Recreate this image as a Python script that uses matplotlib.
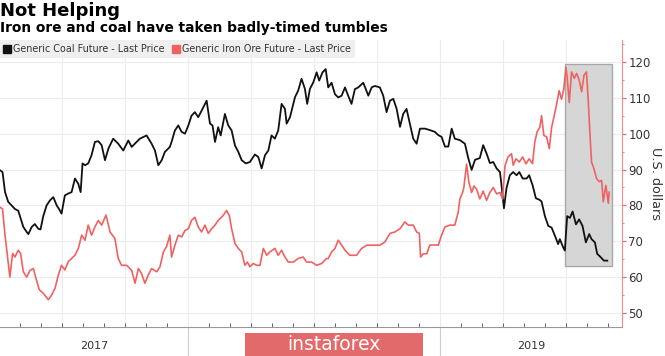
import numpy as np
import matplotlib
matplotlib.use("Agg")
import matplotlib.pyplot as plt
from matplotlib.lines import Line2D
from matplotlib.patches import Rectangle
from matplotlib.ticker import MultipleLocator, FixedLocator

# x values are months since 2017-01-01
coal_m = [3.05,3.17,3.29,3.44,3.60,3.76,3.92,4.00,4.16,4.32,4.40,4.56,4.71,4.87,4.98,5.11,5.27,5.43,5.59,5.75,
          5.90,5.98,6.14,6.30,6.46,6.62,6.78,6.89,6.98,7.10,7.25,7.41,7.57,7.73,7.89,8.05,8.21,8.44,8.68,8.92,
          9.16,9.32,9.56,9.71,10.03,10.27,10.43,10.59,10.75,10.90,11.14,
          11.22,11.38,11.54,11.70,11.86,12.02,12.17,12.33,12.49,12.65,12.89,13.05,13.17,13.29,13.44,13.56,13.76,
          13.92,14.08,14.24,14.40,14.56,14.76,14.95,15.19,15.35,15.51,15.67,15.83,15.98,16.14,16.30,16.46,16.62,
          16.70,16.86,17.10,17.25,17.41,17.57,17.68,17.81,17.97,18.13,18.25,18.41,18.56,18.68,
          18.84,19.00,19.16,19.32,19.48,19.63,19.79,19.95,20.11,20.35,20.59,20.75,20.90,21.14,21.30,21.46,21.62,
          21.78,21.94,22.10,22.25,22.41,22.57,22.73,22.89,23.05,23.29,23.52,23.76,23.92,24.08,24.24,24.40,24.56,
          24.71,24.95,25.19,25.35,25.51,25.67,25.90,26.06,26.22,26.38,
          26.54,26.70,26.86,26.94,27.05,27.17,27.33,27.49,27.65,27.78,27.94,28.13,28.25,28.41,28.57,28.73,28.84,
          29.00,29.16,29.32,29.48,29.63,29.71,29.87,29.95,30.06,30.19,30.32,30.48,30.63,30.79,30.95,31.11,31.22,
          31.38,31.49,31.65,31.81,31.97]
coal_v = [89.8,89.3,83.7,81,80,79,78.5,77,74,72.6,72,74,74.8,73.5,73.3,77,80,81.4,82.3,80,
          78.6,77.7,82.8,83.3,83.7,87.5,86,83.7,91.7,91.2,91.7,94,97.7,97.9,96.8,92.6,95.8,98.6,97.2,95.3,
          98.1,96.3,97.7,98.6,99.5,97.2,95.3,91.2,92.6,94.9,96.3,
          97.7,100.9,102.3,100.5,100,102.3,105,106,104.6,106.4,109.2,102.8,102.3,97.7,101.8,99.5,105.5,
          102.3,100.9,96.7,94.9,92.6,91.7,92.1,94.2,93.5,90.3,94,95.3,99.5,98.6,100.9,108.3,106.9,
          102.8,104.6,110.2,112,115.3,112.5,108.3,112.5,114.3,117.1,114.8,117.1,118,112.9,
          114.2,111,110.1,110.6,112.9,110.6,108.3,112.4,112.9,114.2,110.6,112.9,113.3,112.9,110.6,106,109.2,
          109.7,106.9,101.9,105.5,106.9,102.8,98.6,97.2,101.4,101.4,101,100.5,99.6,99.1,96.4,96.4,101.4,
          98.6,98.2,97.2,93.2,89.9,92.7,93.2,96.8,94.5,91.8,
          92.1,90.3,89.3,85.2,79.2,84.8,88.4,89.3,88.4,89.3,87.5,87.5,88.4,85.7,82,81.6,81.1,
          77,74.3,73.8,71.5,69.2,70.6,68.3,67.4,77,76.5,78.3,74.7,76.1,74.3,69.7,72,70.6,
          69.7,66.5,65.6,64.6,64.6]

iron_m = [3.05,3.17,3.29,3.40,3.52,3.65,3.76,3.92,4.03,4.16,4.32,4.48,4.64,4.76,4.92,5.11,5.35,5.51,5.67,5.83,
          5.98,6.14,6.30,6.46,6.62,6.78,6.94,7.10,7.25,7.41,7.57,7.73,7.89,8.10,8.29,8.52,8.68,8.84,9.08,9.32,
          9.48,9.64,9.79,9.95,10.11,10.27,10.51,10.67,10.83,10.98,11.14,
          11.22,11.38,11.54,11.70,11.86,12.02,12.17,12.33,12.49,12.65,12.81,12.97,13.13,13.29,13.44,13.68,13.84,
          13.97,14.08,14.24,14.40,14.56,14.71,14.83,14.95,15.11,15.27,15.43,15.59,15.75,15.90,16.14,16.30,16.46,
          16.62,16.78,17.02,17.25,17.49,17.65,17.89,18.13,18.37,18.60,
          18.68,18.84,19.00,19.16,19.32,19.48,19.71,20.03,20.27,20.51,20.83,21.14,21.38,21.62,21.86,22.10,22.33,
          22.49,22.73,22.89,23.02,23.08,23.21,23.37,23.52,23.76,23.92,24.08,24.24,24.48,24.71,24.87,24.95,25.08,
          25.14,25.27,25.38,25.51,25.62,25.75,25.90,26.06,26.22,26.38,
          26.54,26.70,26.86,26.98,27.10,27.24,27.41,27.49,27.62,27.78,27.94,28.10,28.25,28.41,28.52,28.63,28.76,
          28.84,28.95,29.08,29.21,29.32,29.43,29.56,29.68,29.79,29.90,30.00,30.06,30.16,30.27,30.40,30.51,30.63,
          30.75,30.86,30.98,31.06,31.14,31.22,31.33,31.46,31.59,31.70,31.78,31.90,32.02,32.06]
iron_v = [79.5,79,71.7,66,60,66.6,65.6,67.5,66.6,61.5,60,61.9,62.4,59.7,56.5,55.5,53.7,55,56.9,60.6,
          63.3,62,64.3,65.2,66.1,68,71.7,70.3,74.5,71.7,74,75.8,74.5,77.3,72.6,70.8,65.2,63.3,63.3,61.9,
          58.3,62.4,61,58.3,60.6,62.4,61.5,62.9,67,68.5,71.7,
          65.6,68.9,71.7,71.2,73,73.5,75.8,76.7,74,72.6,74.5,72.2,73.5,74.5,75.8,77.2,78.6,
          77.2,73.5,69.4,68,67,63.3,64.2,62.9,63.8,63.3,63.3,68,66.1,67,68,66.1,67.5,
          65.6,64.2,64.2,65.2,65.6,64.2,64.2,63.3,63.8,65.2,
          65.2,67,68,70.3,68.9,67.5,66.1,66.1,68,68.9,68.9,68.9,69.8,72.2,72.6,73.5,75.4,
          74.5,74.5,72.6,72.2,65.6,66.5,66.5,68.9,69,68.9,71.7,74,74.5,74.5,78.1,81.8,83.6,
          85,91.5,86.4,83.6,85.4,84.5,81.8,84,81.4,83.6,
          85,83.2,83.6,81.8,91.1,93.5,94.4,91.2,93,92.1,93.5,91.6,93,91.6,97.7,100.5,101.8,
          105,99.5,99.1,95.8,101.8,104.6,108.3,112,109.6,112.5,118.5,115.7,108.7,117.2,115.4,116.8,115,
          111.7,116.3,117.2,109.6,100.5,92.1,90.3,87.5,86.6,87,81,85.6,80.6,83.7]

# year labels (2018 sits under the watermark in the original, so it is not shown)
years = ["2017", "2019"]
year_starts = [0, 24]
highlight_x = (29.95, 32.18)
highlight_y = (63.0, 119.5)

x_min, x_max = 3.05, 32.67
y_min, y_max = 46.1, 126.1

coal_color = "#111111"
iron_color = "#f06262"

fig = plt.figure(figsize=(6.65, 3.56), dpi=100)
ax = fig.add_axes([0.0, 0.0815, 0.9353, 0.806])

ax.add_patch(Rectangle((highlight_x[0], highlight_y[0]), highlight_x[1] - highlight_x[0],
                       highlight_y[1] - highlight_y[0], facecolor="#d6d6d6", edgecolor="#a8a8a8",
                       linewidth=1.0, zorder=1))
ax.plot(coal_m, coal_v, color=coal_color, lw=1.3, zorder=3)
ax.plot(iron_m, iron_v, color=iron_color, lw=1.2, zorder=3)

ax.set_xlim(x_min, x_max)
ax.set_ylim(y_min, y_max)

# grid
ax.set_yticks(np.arange(50, 121, 10))
ax.yaxis.set_minor_locator(MultipleLocator(5))
ax.xaxis.set_major_locator(FixedLocator([12, 24]))
ax.xaxis.set_minor_locator(MultipleLocator(1))
for v in np.arange(3, 33, 3):
    ax.axvline(v, color="#ececec", lw=0.8, zorder=0)
for v in np.arange(50, 121, 10):
    ax.axhline(v, color="#ececec", lw=0.8, zorder=0)

for s in ["left", "top"]:
    ax.spines[s].set_visible(False)
ax.spines["right"].set_color("#f28b8b")
ax.spines["bottom"].set_color("#999999")
ax.yaxis.tick_right()
ax.yaxis.set_label_position("right")
ax.tick_params(axis="y", which="major", colors="#f06262", length=3, width=0.8, labelcolor="#333333",
               labelsize=8.5, pad=1.5)
ax.tick_params(axis="y", which="minor", colors="#f06262", length=1.5, width=0.6)
ax.tick_params(axis="x", which="minor", direction="in", length=3, color="#666666", width=0.7)
ax.tick_params(axis="x", which="major", direction="out", length=30, color="#cccccc", width=0.8,
               labelbottom=False)
ax.set_ylabel("U.S. dollars", rotation=270, labelpad=8, fontsize=9.2, color="#333333")

for yr, ys in zip(years, year_starts):
    lo = max(ys, x_min)
    hi = min(ys + 12, x_max)
    ax.text((lo + hi) / 2, -0.065, yr, transform=ax.get_xaxis_transform(), ha="center", va="center",
            fontsize=8, color="#333333")

handles = [Line2D([], [], marker="s", ls="", color=coal_color, markersize=5.3),
           Line2D([], [], marker="s", ls="", color=iron_color, markersize=5.3)]
leg = ax.legend(handles, ["Generic Coal Future - Last Price", "Generic Iron Ore Future - Last Price"],
                loc="upper left", bbox_to_anchor=(0, 1), ncol=2, frameon=True, fancybox=False,
                borderaxespad=0, handlelength=0.7, handletextpad=0.3, columnspacing=0.8,
                borderpad=0.4, fontsize=6.9)
leg.get_frame().set_facecolor("#efefef")
leg.get_frame().set_edgecolor("none")
leg.get_frame().set_alpha(1)
for t in leg.get_texts():
    t.set_color("#333333")

fig.text(0.0, 0.955, "Not Helping", fontsize=13, fontweight="bold", va="baseline", ha="left")
fig.text(0.0, 0.910, "Iron ore and coal have taken badly-timed tumbles", fontsize=9.9,
         fontweight="bold", va="baseline", ha="left")

# watermark box
fig.patches.append(Rectangle((245 / 665, 0), 178 / 665, 23 / 356, transform=fig.transFigure,
                             facecolor="#e26a6a", edgecolor="none", zorder=10))
fig.text(334 / 665, 11.5 / 356, "instaforex", fontsize=13.5, color="white", ha="center", va="center",
         zorder=11)

fig.savefig("out.png", dpi=100)
